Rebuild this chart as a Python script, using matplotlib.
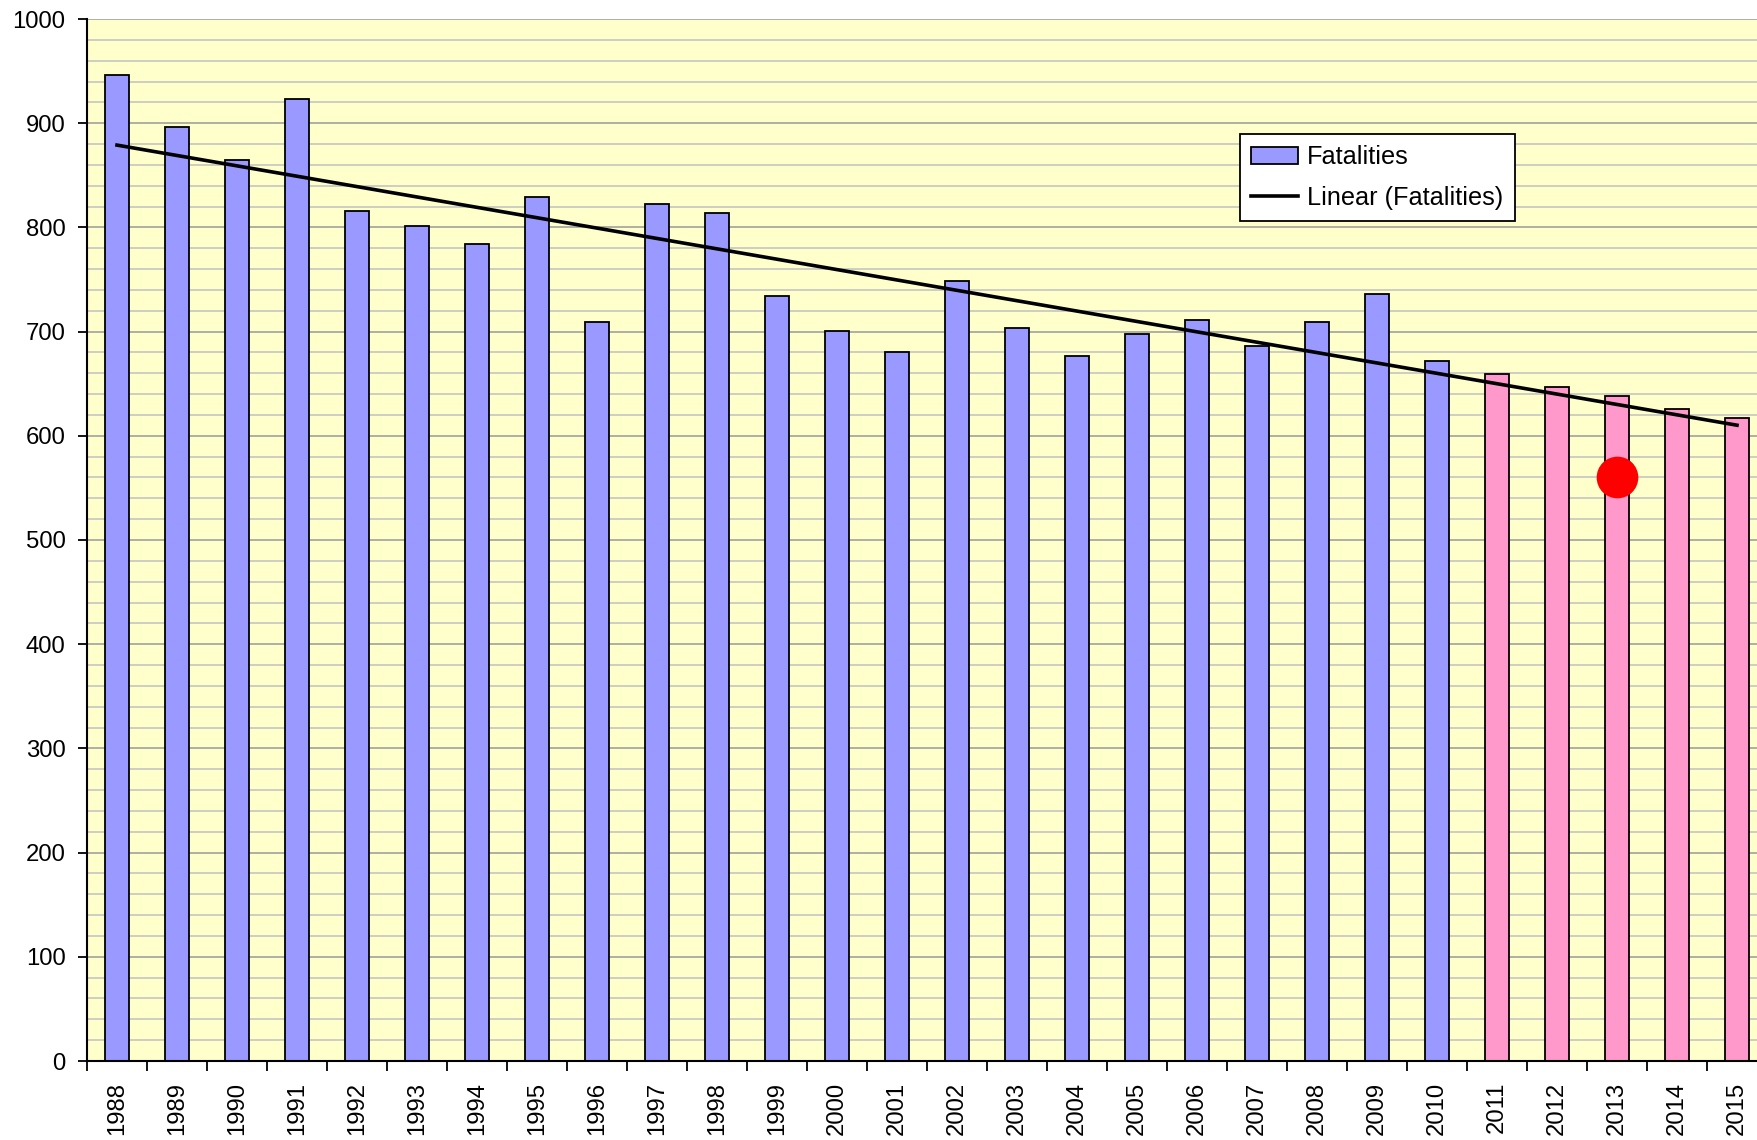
import numpy as np
import matplotlib
matplotlib.use("Agg")
import matplotlib.pyplot as plt
from matplotlib.patches import Patch
from matplotlib.lines import Line2D
from matplotlib.ticker import MultipleLocator, FixedLocator

plt.rcParams['font.family'] = ['Liberation Sans', 'DejaVu Sans']

# Annual fatalities; the last five years are shown in a second colour
years = list(range(1988, 2016))
fatalities = [946, 896, 865, 923, 816, 801, 784, 829, 709, 822,
              814, 734, 701, 680, 749, 703, 677, 698, 711, 686,
              709, 736, 672, 659, 647, 638, 626, 617]
highlight_from = 2011
marker_year = 2013
marker_value = 560

blue = '#9999FF'
pink = '#FF99CC'

fig = plt.figure(figsize=(17.58, 11.40), dpi=100)
ax = fig.add_axes([87 / 1758, 79 / 1140, 1680 / 1758, 1042 / 1140])
ax.set_facecolor('#FFFFCC')

x = np.arange(len(years))
colors = [pink if y >= highlight_from else blue for y in years]
ax.bar(x, fatalities, width=0.4, color=colors, edgecolor='black',
       linewidth=1.3, zorder=3)

# Least-squares linear trend over all years
coef = np.polyfit(x, fatalities, 1)
trend = np.polyval(coef, x)
ax.plot(x, trend, color='black', linewidth=2.6, zorder=4)

# Highlighted point
mi = years.index(marker_year)
ax.plot([x[mi]], [marker_value], 'o', color='#FF0000', markersize=30,
        markeredgewidth=0, zorder=5)

ax.set_xlim(-0.5, len(years) - 0.5)
ax.set_ylim(0, 1000)

ax.yaxis.set_major_locator(MultipleLocator(100))
ax.yaxis.set_minor_locator(MultipleLocator(20))
ax.grid(which='major', axis='y', color='#999999', linewidth=1.1, zorder=0)
ax.grid(which='minor', axis='y', color='#C0C0C0', linewidth=1.1, zorder=0)
ax.set_axisbelow(True)

ax.set_xticks(x)
ax.set_xticklabels([str(y) for y in years], rotation=90)
ax.xaxis.set_minor_locator(FixedLocator(np.arange(-0.5, len(years), 1.0)))

ax.tick_params(axis='x', which='major', length=0, pad=15, labelsize=17.2)
ax.tick_params(axis='x', which='minor', length=7.5, width=1.3,
               direction='out', color='black')
ax.tick_params(axis='y', which='major', length=6.5, width=1.3,
               direction='out', pad=9, labelsize=17.2)
ax.tick_params(axis='y', which='minor', length=0)

for side in ('top', 'right'):
    ax.spines[side].set_visible(False)
for side in ('left', 'bottom'):
    ax.spines[side].set_linewidth(1.5)
    ax.spines[side].set_zorder(6)

handles = [Patch(facecolor=blue, edgecolor='black', linewidth=1.3),
           Line2D([], [], color='black', linewidth=2.6)]
leg = ax.legend(handles, ['Fatalities', 'Linear (Fatalities)'],
                loc='upper left',
                bbox_to_anchor=(1240 / 1758, 1 - 134 / 1140),
                bbox_transform=fig.transFigure,
                fontsize=18.2, frameon=True, fancybox=False,
                edgecolor='black', facecolor='white', framealpha=1,
                borderpad=0.45, handlelength=1.85, handletextpad=0.35,
                labelspacing=0.65, borderaxespad=0)
leg.get_frame().set_linewidth(1.3)
leg.set_zorder(7)

fig.savefig('out.png', dpi=100)
